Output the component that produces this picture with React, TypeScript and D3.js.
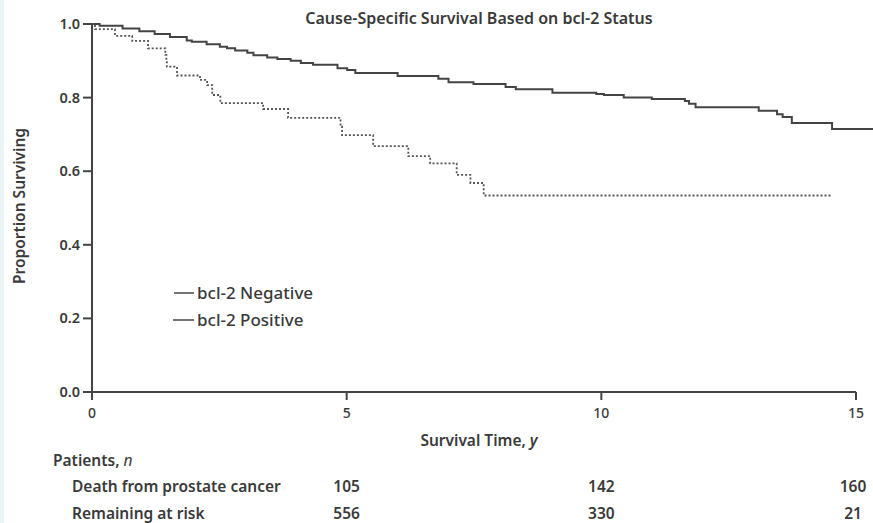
import React from "react";
import * as d3 from "d3";

const negTimes = [0, 0.15, 0.6, 0.93, 1.23, 1.53, 1.86, 1.96, 2.25, 2.51, 2.65, 2.81, 3.05, 3.17, 3.44, 3.64, 3.9, 4.1, 4.34, 4.82, 5.01, 5.17, 6.0, 6.8, 7.0, 7.49, 8.12, 8.32, 9.04, 9.9, 10.05, 10.44, 10.99, 11.64, 11.72, 11.85, 13.09, 13.45, 13.56, 13.74, 14.53, 15.35];
const negSurv = [1.0, 0.995, 0.988, 0.98, 0.973, 0.965, 0.955, 0.952, 0.945, 0.938, 0.934, 0.928, 0.922, 0.915, 0.909, 0.905, 0.9, 0.894, 0.889, 0.88, 0.875, 0.867, 0.859, 0.851, 0.842, 0.837, 0.829, 0.823, 0.813, 0.81, 0.807, 0.8, 0.796, 0.791, 0.783, 0.774, 0.764, 0.755, 0.747, 0.731, 0.715, 0.715];

const posTimes = [0, 0.06, 0.45, 0.79, 1.1, 1.44, 1.46, 1.47, 1.67, 2.12, 2.26, 2.36, 2.52, 3.36, 3.85, 4.88, 4.91, 5.52, 6.21, 6.64, 7.16, 7.43, 7.69, 14.51];
const posSurv = [1.0, 0.986, 0.968, 0.954, 0.934, 0.916, 0.9, 0.884, 0.86, 0.848, 0.834, 0.807, 0.785, 0.769, 0.745, 0.721, 0.698, 0.668, 0.641, 0.621, 0.59, 0.568, 0.534, 0.534];

const xTicks = [0, 5, 10, 15];
const yTicks = [0, 0.2, 0.4, 0.6, 0.8, 1.0];
const riskTimes = [5, 10, 15];
const deaths = ["105", "142", "160"];
const atRisk = ["556", "330", "21"];
const seriesLabels = ["bcl-2 Negative", "bcl-2 Positive"];

const W = 873;
const H = 523;
const FONT = "'Noto Sans', 'DejaVu Sans', sans-serif";
const INK = "#3a3a3a";
const FS = 15.5;

export default function App() {
  const x = d3.scaleLinear().domain([0, 15]).range([92, 856]);
  const y = d3.scaleLinear().domain([0, 1]).range([392, 24]);

  const line = d3
    .line<[number, number]>()
    .x((d) => x(d[0]))
    .y((d) => y(d[1]))
    .curve(d3.curveStepAfter);

  const negPath = line(negTimes.map((t, i) => [t, negSurv[i]] as [number, number])) || "";
  const posPath = line(posTimes.map((t, i) => [t, posSurv[i]] as [number, number])) || "";

  return (
    <svg
      width={W}
      height={H}
      viewBox={`0 0 ${W} ${H}`}
      style={{ position: "absolute", left: 0, top: 0, display: "block", background: "#ffffff" }}
    >
      <rect x={0} y={0} width={4} height={H} fill="#eaf4f6" />
      <text x={479} y={24} textAnchor="middle" fontFamily={FONT} fontSize={16} fontWeight={600} fill={INK}>
        Cause-Specific Survival Based on bcl-2 Status
      </text>

      {/* curves */}
      <path d={negPath} fill="none" stroke="#444" strokeWidth={2} />
      <path d={posPath} fill="none" stroke="#555" strokeWidth={1.8} strokeDasharray="2,2" />

      {/* axes */}
      <line x1={x(0)} x2={x(15)} y1={y(0)} y2={y(0)} stroke="#444" strokeWidth={2} />
      <line x1={x(0)} x2={x(0)} y1={y(0) + 8} y2={y(1)} stroke="#444" strokeWidth={2} />
      {yTicks.map((t) => (
        <g key={"y" + t}>
          <line x1={x(0) - 9} x2={x(0)} y1={y(t)} y2={y(t)} stroke="#444" strokeWidth={2} />
          <text x={x(0) - 12} y={y(t) + 5} textAnchor="end" fontFamily={FONT} fontSize={14.5} fontWeight={600} fill={INK}>
            {t.toFixed(1)}
          </text>
        </g>
      ))}
      {xTicks.map((t) => (
        <g key={"x" + t}>
          <line x1={x(t)} x2={x(t)} y1={y(0)} y2={y(0) + 8} stroke="#444" strokeWidth={2} />
          <text x={x(t)} y={y(0) + 26} textAnchor="middle" fontFamily={FONT} fontSize={14} fontWeight={500} fill={INK}>
            {t}
          </text>
        </g>
      ))}

      <text
        transform={`translate(25,${206}) rotate(-90)`}
        textAnchor="middle"
        fontFamily={FONT}
        fontSize={FS}
        fontWeight={600}
        fill={INK}
      >
        Proportion Surviving
      </text>

      <text x={479} y={446} textAnchor="middle" fontFamily={FONT} fontSize={FS} fontWeight={600} fill={INK}>
        Survival Time, <tspan fontStyle="italic">y</tspan>
      </text>

      {/* legend */}
      {seriesLabels.map((s, i) => (
        <g key={s}>
          <line x1={174 - i} x2={194} y1={293 + i * 27} y2={293 + i * 27} stroke="#444" strokeWidth={1.5} />
          <text x={197} y={299 + i * 27} fontFamily={FONT} fontSize={17} fontWeight={500} fill={INK}>
            {s}
          </text>
        </g>
      ))}

      {/* risk table */}
      <text x={53} y={466} fontFamily={FONT} fontSize={FS} fontWeight={600} fill={INK}>
        Patients, <tspan fontStyle="italic" fontWeight={400}>n</tspan>
      </text>
      <text x={72} y={492} fontFamily={FONT} fontSize={FS} fontWeight={600} fill={INK}>
        Death from prostate cancer
      </text>
      <text x={72} y={519} fontFamily={FONT} fontSize={FS} fontWeight={600} fill={INK}>
        Remaining at risk
      </text>
      {riskTimes.map((t, i) => (
        <g key={"r" + t}>
          <text x={x(t) - (i === 2 ? 3 : 0)} y={492} textAnchor="middle" fontFamily={FONT} fontSize={FS} fontWeight={600} fill={INK}>
            {deaths[i]}
          </text>
          <text x={x(t) - (i === 2 ? 3 : 0)} y={519} textAnchor="middle" fontFamily={FONT} fontSize={FS} fontWeight={600} fill={INK}>
            {atRisk[i]}
          </text>
        </g>
      ))}
    </svg>
  );
}
